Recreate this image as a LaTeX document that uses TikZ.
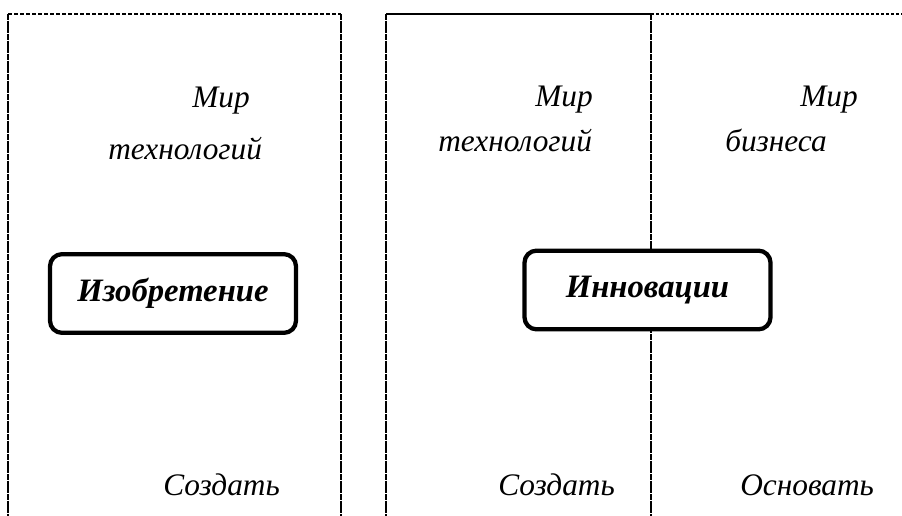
\documentclass[tikz,border=0pt]{standalone}
\usepackage{fontspec}
\setmainfont{Liberation Serif}

\begin{document}
\begin{tikzpicture}[x=0.75pt,y=-0.75pt,
  word/.style={font=\fontsize{23.5}{28}\selectfont\itshape,inner sep=0pt,anchor=base west},
  concept/.style={
    draw,
    line width=3.2pt,
    rounded corners=9pt,
    fill=white,
    minimum width=184.5pt,
    minimum height=59pt,
    inner sep=0pt,
    font=\fontsize{24.5}{29}\selectfont\bfseries\itshape},
  border/.style={line width=2pt,dash pattern=on 4.6pt off 0.4pt},
  edge/.style={line width=2pt,dash pattern=on 3pt off 1.5pt}]
  \useasboundingbox (0,0) rectangle (902,516);

  % left column: technology only
  \draw[edge] (8,14) -- (341,14);
  \draw[border] (8,14) -- (8,516);
  \draw[border] (341,14) -- (341,516);

  % right block: technology and business side by side
  \draw[line width=2pt] (386,14) -- (651,14);
  \draw[line width=2pt,dash pattern=on 2.25pt off 1.5pt] (651,14) -- (902,14);
  \draw[border] (386,14) -- (386,516);
  \draw[border] (651,14) -- (651,516);

  \node[word] (tech1) at (192,108) {Мир};
  \node[word] (tech2) at (108,160) {технологий};
  \node[word] (make1) at (163,495) {Создать};

  \node[word] (tech3) at (535,107) {Мир};
  \node[word] (tech4) at (438,152) {технологий};
  \node[word] (make2) at (498,495) {Создать};

  \node[word] (biz1) at (800,107) {Мир};
  \node[word] (biz2) at (725,152) {бизнеса};
  \node[word] (found) at (740,495) {Основать};

  \node[concept] (invention) at (173,293.5) {Изобретение};
  \node[concept] (innovation) at (647.5,290) {Инновации};
\end{tikzpicture}
\end{document}
